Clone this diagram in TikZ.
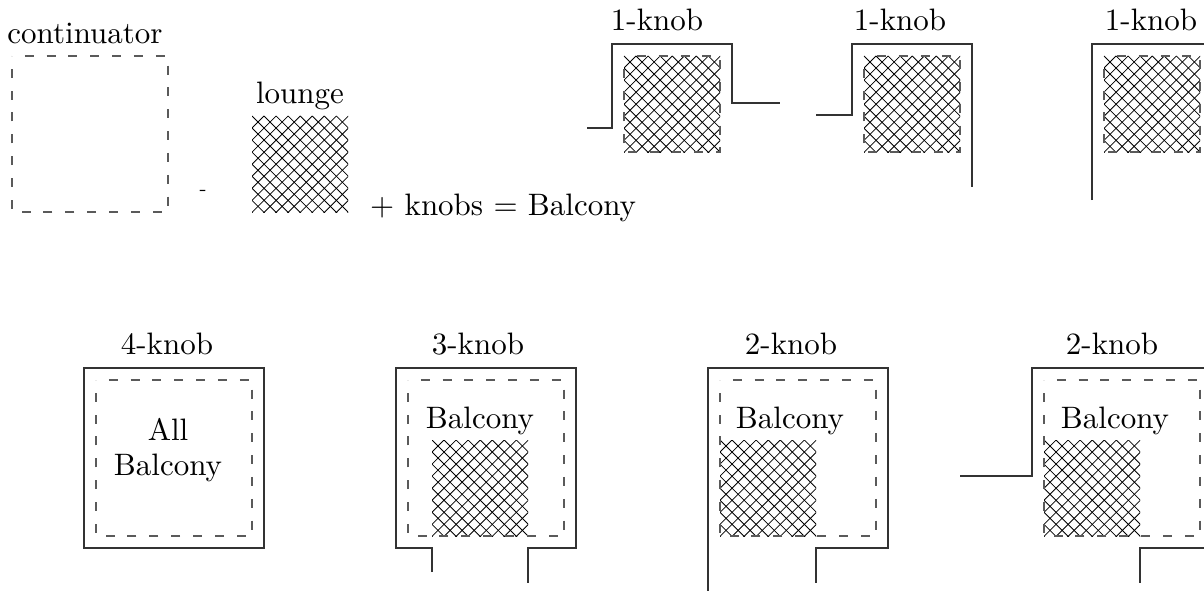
\documentclass[tikz,border=0pt]{standalone}
\usepackage{graphicx}
\usetikzlibrary{decorations}
\definecolor{wallgray}{HTML}{333333}
\definecolor{dashgray}{HTML}{5A5A5A}
\tikzset{
  wall/.style={draw=wallgray, line width=1.5pt, line join=miter},
  dashline/.style={draw=dashgray, line width=1.4pt,
    dash pattern=on 9pt off 12.5pt, dash expand off},
  hatchline/.style={draw=black, line width=0.8pt},
  lbl/.style={inner sep=0pt, anchor=base},
}
% cross-hatched square: top-left (#1,#2), bottom-right (#3,#4)
\newcommand\hatchsq[4]{%
  \begin{scope}
    \clip (#1,#2) rectangle (#3,#4);
    \foreach \k in {-10,...,18}{
      \draw[hatchline] (#1+\k*12.05,#2) -- ++(110,110);
      \draw[hatchline] (#1+\k*12.05,#2) -- ++(-110,110);
    }
  \end{scope}}
% dashed outline with a dash at every corner
\newcommand\dashsq[4]{%
  \draw[dashline] (#1,#2) -- (#3,#2) -- (#3,#4) -- (#1,#4) -- cycle;}
\newcommand\txt[1]{\scalebox{3.1}{#1}}
\begin{document}
\begin{tikzpicture}[x=1pt,y=-1pt]
  \useasboundingbox (0,0) rectangle (1204,591);
  \clip (0,0) rectangle (1204,591);

  % ---- top row: continuator - lounge + knobs = Balcony ----
  \node[lbl] (continuator) at (85,44) {\txt{continuator}};
  \dashsq{12}{56}{168}{212}
  \node (minus) at (203,193) {\scalebox{2.1}{-}};
  \node[lbl] (lounge) at (300,104) {\txt{lounge}};
  \hatchsq{252}{116}{348}{212}
  \node[lbl, anchor=base west] (eq) at (370,215) {\txt{$+$ knobs $=$ Balcony}};

  % ---- 1-knob variants ----
  \node[lbl] (k1a) at (657,31) {\txt{1-knob}};
  \hatchsq{624}{56}{720}{152}
  \dashsq{624}{56}{720}{152}
  \draw[wall] (587,128) -- (612,128) -- (612,44) -- (732,44) -- (732,103) -- (780,103);

  \node[lbl] (k1b) at (900,31) {\txt{1-knob}};
  \hatchsq{864}{56}{960}{152}
  \dashsq{864}{56}{960}{152}
  \draw[wall] (816,115) -- (852,115) -- (852,44) -- (972,44) -- (972,187);

  \node[lbl] (k1c) at (1151,31) {\txt{1-knob}};
  \hatchsq{1104}{56}{1200}{152}
  \dashsq{1104}{56}{1200}{152}
  \draw[wall] (1092,200) -- (1092,44) -- (1212,44) -- (1212,200);

  % ---- 4-knob ----
  \node[lbl] (k4) at (167,354) {\txt{4-knob}};
  \draw[wall] (84,368) rectangle (264,548);
  \dashsq{96}{380}{252}{536}
  \node[lbl] (all) at (168,440) {\txt{All}};
  \node[lbl] (allb) at (168,475) {\txt{Balcony}};

  % ---- 3-knob ----
  \node[lbl] (k3) at (478,354) {\txt{3-knob}};
  \hatchsq{432}{440}{528}{536}
  \dashsq{408}{380}{564}{536}
  \node[lbl] (b3) at (480,428) {\txt{Balcony}};
  \draw[wall] (432,572) -- (432,548) -- (396,548) -- (396,368) -- (576,368)
              -- (576,548) -- (528,548) -- (528,583);

  % ---- 2-knob (left) ----
  \node[lbl] (k2a) at (791,354) {\txt{2-knob}};
  \hatchsq{720}{440}{816}{536}
  \dashsq{720}{380}{876}{536}
  \node[lbl] (b2a) at (790,428) {\txt{Balcony}};
  \draw[wall] (708,591) -- (708,368) -- (888,368) -- (888,548) -- (816,548) -- (816,583);

  % ---- 2-knob (right) ----
  \node[lbl] (k2b) at (1112,354) {\txt{2-knob}};
  \hatchsq{1044}{440}{1140}{536}
  \dashsq{1044}{380}{1200}{536}
  \node[lbl] (b2b) at (1115,428) {\txt{Balcony}};
  \draw[wall] (960,476) -- (1032,476) -- (1032,368) -- (1212,368) -- (1212,548)
              -- (1140,548) -- (1140,583);
\end{tikzpicture}
\end{document}
